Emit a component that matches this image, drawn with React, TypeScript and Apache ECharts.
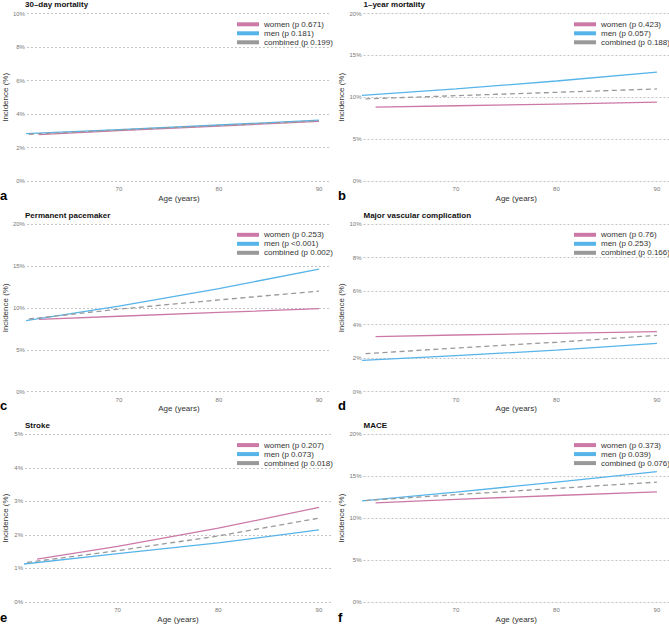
import React, { useEffect, useRef } from "react";
import * as echarts from "echarts";

// Ages at which each fitted curve is evaluated
const ageMen = [60, 70, 80, 90];
const ageCombined = [61, 70, 80, 90];
const ageWomen = [62, 70, 80, 90];

const panelTitles = [
  "30–day mortality",
  "1–year mortality",
  "Permanent pacemaker",
  "Major vascular complication",
  "Stroke",
  "MACE",
];
const panelLetters = ["a", "b", "c", "d", "e", "f"];
const yMax = [10, 20, 20, 10, 5, 20];
const yStep = [2, 5, 5, 2, 1, 5];
const xTicks = [70, 80, 90];

const pWomen = ["0.671", "0.423", "0.253", "0.76", "0.207", "0.373"];
const pMen = ["0.181", "0.057", "<0.001", "0.253", "0.073", "0.039"];
const pCombined = ["0.199", "0.188", "0.002", "0.166", "0.018", "0.076"];

// Predicted incidence (%) per panel
const womenValues = [
  [2.78, 3.02, 3.29, 3.57],
  [8.83, 9.0, 9.2, 9.42],
  [8.63, 9.0, 9.45, 9.9],
  [3.28, 3.38, 3.48, 3.58],
  [1.28, 1.66, 2.2, 2.82],
  [11.83, 12.25, 12.7, 13.13],
];
const menValues = [
  [2.82, 3.08, 3.35, 3.64],
  [10.18, 11.0, 11.95, 13.0],
  [8.35, 10.2, 12.3, 14.63],
  [1.85, 2.15, 2.48, 2.88],
  [1.11, 1.44, 1.76, 2.15],
  [12.0, 13.1, 14.3, 15.56],
];
const combinedValues = [
  [2.8, 3.05, 3.32, 3.6],
  [9.82, 10.2, 10.6, 11.0],
  [8.67, 9.85, 10.95, 12.0],
  [2.27, 2.6, 2.95, 3.36],
  [1.18, 1.53, 1.97, 2.5],
  [12.1, 12.8, 13.55, 14.3],
];

const WOMEN = "#CC79A7";
const MEN = "#56B4E9";
const COMBINED = "#999999";
const FONT = '"Liberation Sans", Arial, sans-serif';

const GRID_LEFT = [25, 363.5];
const GRID_TOP = [13.5, 224, 434.3];
const GRID_W = [306, 305.5];
const GRID_H = 167.7;
const LETTER_X = [0, 338];
const LETTER_BASE = [200, 410, 622];

function buildOption() {
  const grid: any[] = [];
  const xAxis: any[] = [];
  const yAxis: any[] = [];
  const series: any[] = [];
  const legend: any[] = [];
  const title: any[] = [];
  const graphic: any[] = [];

  panelTitles.forEach((name, i) => {
    const col = i % 2;
    const row = Math.floor(i / 2);
    const left = GRID_LEFT[col];
    const top = GRID_TOP[row];

    grid.push({ left, top, width: GRID_W[col], height: GRID_H });

    xAxis.push({
      type: "value",
      gridIndex: i,
      min: 60.8,
      max: 91.2,
      splitLine: { show: false },
      axisLine: { show: false },
      axisTick: { show: false },
      axisLabel: { customValues: xTicks, fontSize: 6, color: "#777", margin: 5, fontFamily: FONT },
      name: "Age (years)",
      nameLocation: "middle",
      nameGap: 13,
      nameTextStyle: { fontSize: 8, color: "#333", fontFamily: FONT },
    });

    yAxis.push({
      type: "value",
      gridIndex: i,
      min: 0,
      max: yMax[i],
      interval: yStep[i],
      axisLine: { show: false },
      axisTick: { show: false },
      axisLabel: { formatter: "{value}%", fontSize: 6, color: "#777", margin: 2, fontFamily: FONT },
      splitLine: { lineStyle: { color: "#aaa", width: 0.7, type: [2, 2] } },
      name: "Incidence (%)",
      nameLocation: "middle",
      nameGap: 16,
      nameTextStyle: { fontSize: 8, color: "#333", fontFamily: FONT },
    });

    const wName = `women (p ${pWomen[i]})`;
    const mName = `men (p ${pMen[i]})`;
    const cName = `combined (p ${pCombined[i]})`;

    const mk = (nm: string, ages: number[], vals: number[], color: string, dashed: boolean) => ({
      type: "line",
      name: nm,
      xAxisIndex: i,
      yAxisIndex: i,
      data: ages.map((a, k) => [a, vals[k]]),
      showSymbol: false,
      symbol: "none",
      clip: false,
      silent: true,
      color,
      lineStyle: { color, width: 1.3, type: dashed ? [5, 3.5] : "solid" },
    });
    series.push(mk(wName, ageWomen, womenValues[i], WOMEN, false));
    series.push(mk(mName, ageMen, menValues[i], MEN, false));
    series.push(mk(cName, ageCombined, combinedValues[i], COMBINED, true));

    legend.push({
      data: [wName, mName, cName],
      orient: "vertical",
      left: left + (col === 0 ? 212 : 210.5),
      top: top + 6.8,
      icon: "rect",
      itemWidth: 22,
      itemHeight: 4,
      itemGap: 1,
      padding: 0,
      selectedMode: false,
      textStyle: { fontSize: 8, color: "#333", lineHeight: 8, fontFamily: FONT },
    });

    title.push({
      text: name,
      left,
      top: top - 13,
      padding: 0,
      textStyle: { fontSize: 8, fontWeight: "bold", color: "#111", fontFamily: FONT },
    });

    graphic.push({
      type: "text",
      x: LETTER_X[col],
      y: LETTER_BASE[row] - 4.5,
      style: {
        text: panelLetters[i],
        font: `bold 13px ${FONT}`,
        fill: "#000",
        verticalAlign: "middle",
      },
    });
  });

  return {
    animation: false,
    backgroundColor: "#fff",
    textStyle: { fontFamily: FONT },
    grid,
    xAxis,
    yAxis,
    series,
    legend,
    title,
    graphic,
  };
}

export default function App() {
  const ref = useRef<HTMLDivElement>(null);

  useEffect(() => {
    document.body.style.margin = "0";
    if (!ref.current) return;
    const chart = echarts.init(ref.current, undefined, { renderer: "svg" });
    chart.setOption(buildOption() as any);
    return () => chart.dispose();
  }, []);

  return <div ref={ref} style={{ width: 669, height: 625 }} />;
}
